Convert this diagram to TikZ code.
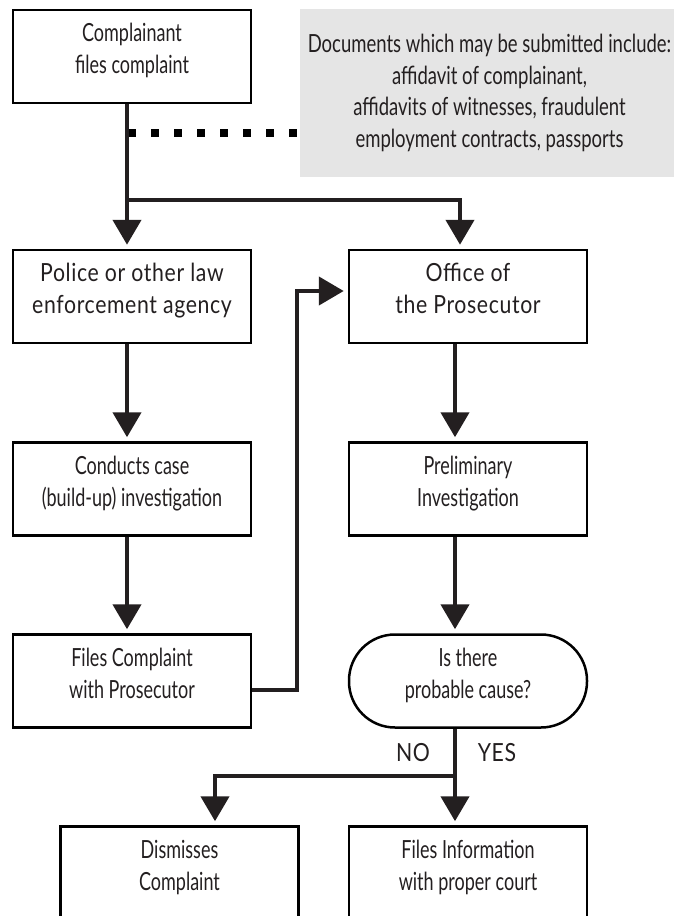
\documentclass[tikz,border=0pt]{standalone}
\usepackage{fontspec}
\setmainfont{Lato}[FakeStretch=0.72]
\newfontfamily\widefont{Lato}[FakeStretch=0.85,LetterSpace=2.5]
\newfontfamily\docfont{Lato}[FakeStretch=0.74]
\usetikzlibrary{arrows.meta}
\definecolor{ink}{HTML}{231F20}
\definecolor{note}{HTML}{E5E5E5}
\newcommand{\twol}[2]{\begin{tabular}[b]{@{}c@{}}#1\\#2\end{tabular}}
\begin{document}
\begin{tikzpicture}[x=1pt,y=-1pt,
  every node/.style={font=\fontsize{25}{32}\selectfont, text=ink},
  box/.style={draw=black, line width=2.5pt, minimum width=238pt, minimum height=93pt,
    inner sep=0pt, text depth=20pt},
  stadium/.style={box, rounded corners=46pt},
  conn/.style={draw=ink, line width=4.5pt, line join=miter},
  arr/.style={conn, -{Triangle[width=28pt,length=25pt]}, shorten >=4pt},
  dots/.style={draw=black, line width=8pt, dash pattern=on 7.5pt off 15.5pt}
]
\useasboundingbox (0,0) rectangle (674,916);
% note
\node[fill=note, minimum width=380pt, minimum height=168pt, inner sep=0pt, anchor=north west] (docs) at (300,9) {};
\node[align=center, font=\docfont\fontsize{25}{31.7}\selectfont] (docstext) at (489.5,93) {Documents which may be submitted include:\\affidavit of complainant,\\affidavits of witnesses, fraudulent\\employment contracts, passports};
% boxes
\node[box] (comp) at (132,56.5) {\twol{Complainant}{files complaint}};
\node[box] (police) at (132,296.5) {\widefont\twol{Police or other law}{enforcement agency}};
\node[box] (office) at (468,296.5) {\widefont\twol{Office of}{the Prosecutor}};
\node[box] (conducts) at (132,489) {\twol{Conducts case}{(build-up) investigation}};
\node[box] (prelim) at (468,489) {\twol{Preliminary}{Investigation}};
\node[box] (filescomp) at (132,681) {\twol{Files Complaint}{with Prosecutor}};
\node[stadium] (cause) at (468,681) {\twol{Is there}{probable cause?}};
\node[box] (dismiss) at (179.5,873) {\twol{Dismisses}{Complaint}};
\node[box] (filesinfo) at (468,873) {\twol{Files Information}{with proper court}};
\node[font=\widefont\fontsize{25}{32}\selectfont] (no) at (413,753) {NO};
\node[font=\widefont\fontsize{25}{32}\selectfont] (yes) at (497,753) {YES};
% connectors
\coordinate (split) at ([xshift=-5pt]comp.south |- 0,200);
\coordinate (dotstart) at ([xshift=-4pt]comp.south |- 0,133);
\draw[dots] (dotstart) -- (docs.west |- dotstart);
\draw[arr] ([xshift=-5pt]comp.south) -- ([xshift=-5pt]police.north);
\draw[arr] (split) -| ([xshift=-8pt]office.north);
\draw[arr] ([xshift=-5pt]police.south) -- ([xshift=-5pt]conducts.north);
\draw[arr] ([xshift=-5pt]conducts.south) -- ([xshift=-5pt]filescomp.north);
\draw[arr] ([xshift=-13pt]office.south) -- ([xshift=-13pt]prelim.north);
\draw[arr] ([xshift=-13pt]prelim.south) -- ([xshift=-13pt]cause.north);
\draw[arr] ([xshift=-13pt]cause.south) -- ([xshift=-13pt]filesinfo.north);
\coordinate (split2) at ([xshift=-13pt]cause.south |- 0,776);
\draw[arr] (split2) -| ([xshift=35.5pt]dismiss.north);
\coordinate (bend) at (297,291);
\draw[arr] ([yshift=-9pt]filescomp.east) -| (bend) -- (office.west |- bend);
\end{tikzpicture}
\end{document}
